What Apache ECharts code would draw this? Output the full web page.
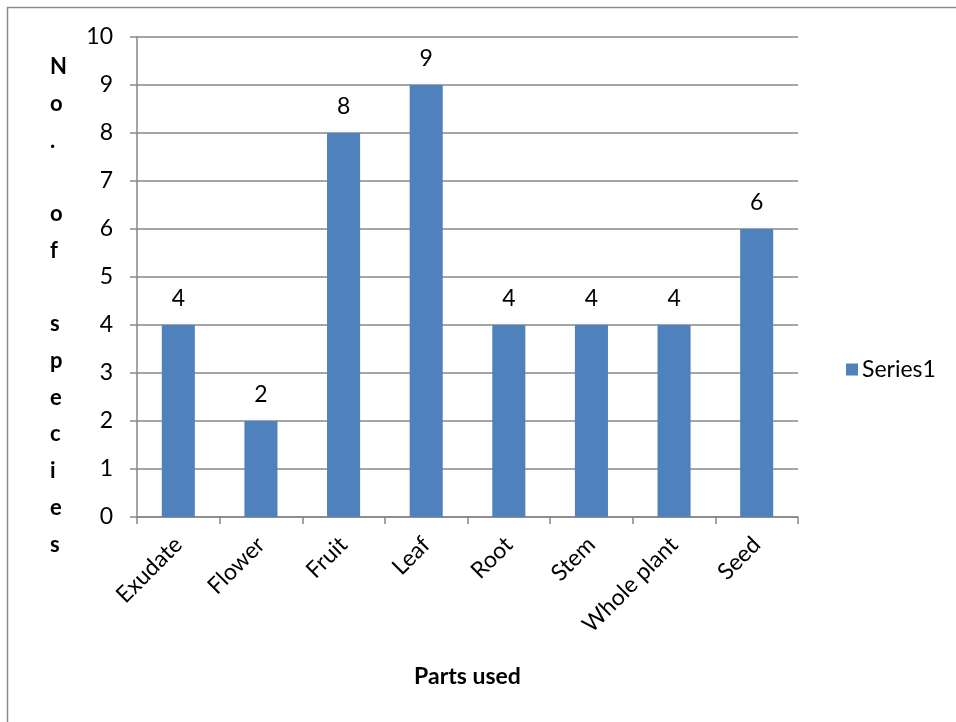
<!DOCTYPE html>
<html>
<head>
<meta charset="utf-8">
<style>
  html, body { margin: 0; padding: 0; background: #fff; }
  #chart { width: 956px; height: 722px; }
</style>
<script src="https://cdn.jsdelivr.net/npm/echarts@6/dist/echarts.min.js"></script>
</head>
<body>
<div id="chart"></div>
<script>
// Plant parts used and number of species for each
const categories = ['Exudate', 'Flower', 'Fruit', 'Leaf', 'Root', 'Stem', 'Whole plant', 'Seed'];
const speciesCounts = [4, 2, 8, 9, 4, 4, 4, 6];
const seriesName = 'Series1';
const yAxisTitle = 'No. of species';
const xAxisTitle = 'Parts used';

const FONT = 'Lato, "Open Sans", sans-serif';
const FONT_SIZE = 23;
const GRID_GRAY = '#878787';

// Stack the y-axis title one character per line
const stackedTitle = yAxisTitle.split('').join('\n');

const chart = echarts.init(document.getElementById('chart'), null, { renderer: 'canvas' });

chart.setOption({
  animation: false,
  backgroundColor: '#fff',
  textStyle: { fontFamily: FONT },
  graphic: [
    {
      type: 'rect',
      shape: { x: 7.5, y: 7.5, width: 1000, height: 1000 },
      style: { fill: 'none', stroke: '#8c8c8c', lineWidth: 1.5 },
      silent: true
    },
    {
      type: 'text',
      left: 50,
      top: 49,
      style: {
        text: stackedTitle,
        fontFamily: FONT,
        fontSize: 22,
        fontWeight: 'bold',
        fill: '#000',
        lineHeight: 36.7,
        align: 'center',
        width: 16
      }
    }
  ],
  grid: { left: 137, right: 158, top: 37, bottom: 205, containLabel: false },
  legend: {
    data: [seriesName],
    orient: 'vertical',
    left: 841,
    top: 353,
    itemWidth: 12,
    itemHeight: 12,
    itemGap: 8,
    icon: 'rect',
    textStyle: { fontFamily: FONT, fontSize: FONT_SIZE, color: '#000', padding: [0, 0, 0, -1] }
  },
  xAxis: {
    type: 'category',
    data: categories,
    name: xAxisTitle,
    nameLocation: 'middle',
    nameGap: 148,
    nameTextStyle: { fontFamily: FONT, fontSize: FONT_SIZE, fontWeight: 'bold', color: '#000' },
    axisLine: { lineStyle: { color: GRID_GRAY, width: 1.5 } },
    axisTick: { show: true, length: 7, alignWithLabel: false, lineStyle: { color: GRID_GRAY, width: 1.5 } },
    axisLabel: {
      rotate: 45,
      margin: 24,
      fontFamily: FONT,
      fontSize: FONT_SIZE,
      color: '#000'
    }
  },
  yAxis: {
    type: 'value',
    min: 0,
    max: 10,
    interval: 1,
    axisLine: { show: true, lineStyle: { color: GRID_GRAY, width: 1.5 } },
    axisTick: { show: true, length: 7, lineStyle: { color: GRID_GRAY, width: 1.5 } },
    splitLine: { show: true, lineStyle: { color: GRID_GRAY, width: 1.5 } },
    axisLabel: { margin: 24, fontFamily: FONT, fontSize: FONT_SIZE, color: '#000' }
  },
  series: [
    {
      name: seriesName,
      type: 'bar',
      data: speciesCounts,
      barWidth: '40%',
      itemStyle: { color: '#4F81BD' },
      label: {
        show: true,
        position: 'top',
        distance: 15,
        fontFamily: FONT,
        fontSize: FONT_SIZE,
        color: '#000'
      }
    }
  ]
});
</script>
</body>
</html>
